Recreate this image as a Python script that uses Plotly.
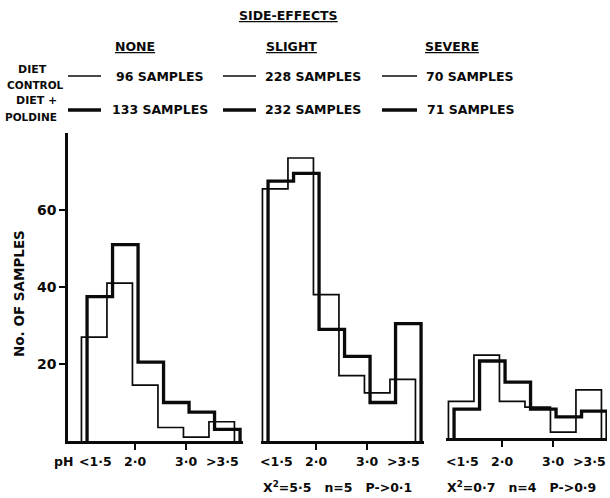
import plotly.graph_objects as go

# ---------------- data ----------------
groups = ["NONE", "SLIGHT", "SEVERE"]
ph_edges = [1.0, 1.5, 2.0, 2.5, 3.0, 3.5, 4.0]

none_control = [27, 41, 14.5, 3.5, 1, 5]
none_poldine = [37.5, 51, 20.5, 10, 7.5, 3]
slight_control = [65.5, 73.5, 38, 17, 12.5, 16]
slight_poldine = [67.5, 69.5, 29, 22, 10, 30.5]
severe_control = [9.5, 21.5, 9.5, 8, 1.5, 12.5]
severe_poldine = [7.5, 20, 14.5, 7.5, 5.5, 7]

control_samples = [96, 228, 70]
poldine_samples = [133, 232, 71]

ph_tick_vals = [2.0, 3.0]
ph_label_text = ["<1·5", "2·0", "3·0", ">3·5"]
ph_label_pos = [1.22, 2.0, 3.0, 3.72]
y_tick_vals = [20, 40, 60]
stats_text = ["", "X<sup>2</sup>=5·5   n=5   P->0·1", "X<sup>2</sup>=0·7   n=4   P->0·9"]

# ---------------- layout helpers ----------------
W, H = 610, 498
FONT = "DejaVu Sans"
INK = "#0a0a0a"
PXU = 51.0  # pixels per pH unit


def px(x):
    return x / W


def py(y):
    return 1 - y / H


panel_x_px = [(68, 243), (261, 424), (446, 607)]
panel_tick2_px = [135, 316, 502]
panel_y_px = [(133, 441), (133, 441), (130, 438)]
thin_off, thick_off = -0.05, 0.06

control_sets = [none_control, slight_control, severe_control]
poldine_sets = [none_poldine, slight_poldine, severe_poldine]


def step_xy(vals, off):
    e = [v + off for v in ph_edges]
    xs = [e[0]] + e[:-1] + [e[-1]]
    ys = [0] + list(vals) + [0]
    return xs, ys


fig = go.Figure()
layout = dict(
    width=W, height=H, margin=dict(l=0, r=0, t=0, b=0),
    paper_bgcolor="white", plot_bgcolor="white", showlegend=False,
    font=dict(family=FONT, color=INK),
)
annotations = []
shapes = []

for i in range(3):
    sfx = "" if i == 0 else str(i + 1)
    xa, ya = "x" + sfx, "y" + sfx
    for vals, off, w in ((control_sets[i], thin_off, 1.7), (poldine_sets[i], thick_off, 3.3)):
        xs, ys = step_xy(vals, off)
        fig.add_trace(go.Scatter(x=xs, y=ys, mode="lines", line=dict(color=INK, width=w, shape="hv"),
                                 xaxis=xa, yaxis=ya, cliponaxis=False, hoverinfo="skip"))
    x0, x1 = panel_x_px[i]
    t2 = panel_tick2_px[i]
    rng = [2 + (x0 - t2) / PXU, 2 + (x1 - t2) / PXU]
    ytop, ybot = panel_y_px[i]
    layout["xaxis" + sfx] = dict(
        domain=[px(x0), px(x1)], range=rng, anchor=ya, showline=True, linecolor=INK, linewidth=2.5,
        showgrid=False, zeroline=False, tickmode="array", tickvals=ph_tick_vals, ticks="outside",
        ticklen=6, tickwidth=2, tickcolor=INK, showticklabels=False, fixedrange=True,
    )
    ydict = dict(
        domain=[py(ybot), py(ytop)], range=[0, 80], anchor=xa, showgrid=False, zeroline=False,
        showline=(i == 0), linecolor=INK, linewidth=2.5, fixedrange=True,
    )
    if i == 0:
        ydict.update(tickmode="array", tickvals=y_tick_vals, ticks="outside", ticklen=6, tickwidth=2,
                     tickcolor=INK, showticklabels=True,
                     tickfont=dict(family=FONT, size=14, color=INK, weight="bold"))
    else:
        ydict.update(showticklabels=False, ticks="")
    layout["yaxis" + sfx] = ydict
    for txt_, pos in zip(ph_label_text, ph_label_pos):
        annotations.append(dict(x=pos, xref=xa, y=py(461), yref="paper", text=txt_, showarrow=False,
                                xanchor="center", yanchor="middle",
                                font=dict(family=FONT, size=12.5, color=INK, weight="bold")))
    if stats_text[i]:
        annotations.append(dict(x=px((x0 + x1) / 2 - 5), xref="paper", y=py(487), yref="paper",
                                text=stats_text[i].replace(" ", "\u00a0"), showarrow=False,
                                xanchor="center", yanchor="middle",
                                font=dict(family=FONT, size=12.5, color=INK, weight="bold")))


def txt(x, y, s, size=12, anchor="center"):
    annotations.append(dict(x=px(x), y=py(y), xref="paper", yref="paper", text=s, showarrow=False,
                            xanchor=anchor, yanchor="middle",
                            font=dict(family=FONT, size=size, color=INK, weight="bold")))


# headers
txt(288, 15, "<u>SIDE-EFFECTS</u>", 12.5)
for g, cx in zip(groups, [135, 291, 452]):
    txt(cx, 47, "<u>" + g + "</u>", 12.5)

# legend rows
txt(32, 70, "DIET", 11)
txt(35, 85, "CONTROL", 10.5)
txt(36, 100, "DIET +", 11)
txt(31, 117, "POLDINE", 10.5)
for n, cx in zip(control_samples, [160, 313, 470]):
    txt(cx, 76, f"{n} SAMPLES", 12.5)
for n, cx in zip(poldine_samples, [160, 313, 471]):
    txt(cx, 110, f"{n} SAMPLES", 12.5)
for (a, b) in [(68, 101), (223, 256), (382, 417)]:
    shapes.append(dict(type="line", xref="paper", yref="paper", x0=px(a), x1=px(b), y0=py(76), y1=py(76),
                       line=dict(color=INK, width=1.7)))
    shapes.append(dict(type="line", xref="paper", yref="paper", x0=px(a), x1=px(b), y0=py(110), y1=py(110),
                       line=dict(color=INK, width=3.3)))

# axis labels
txt(75, 461, "pH", 12.5, anchor="right")
annotations.append(dict(x=px(19), y=py(294), xref="paper", yref="paper", text="No. OF SAMPLES",
                        textangle=-90, showarrow=False, xanchor="center", yanchor="middle",
                        font=dict(family=FONT, size=13.5, color=INK, weight="bold")))

layout["annotations"] = annotations
layout["shapes"] = shapes
fig.update_layout(**layout)
fig.write_html("out.html")
